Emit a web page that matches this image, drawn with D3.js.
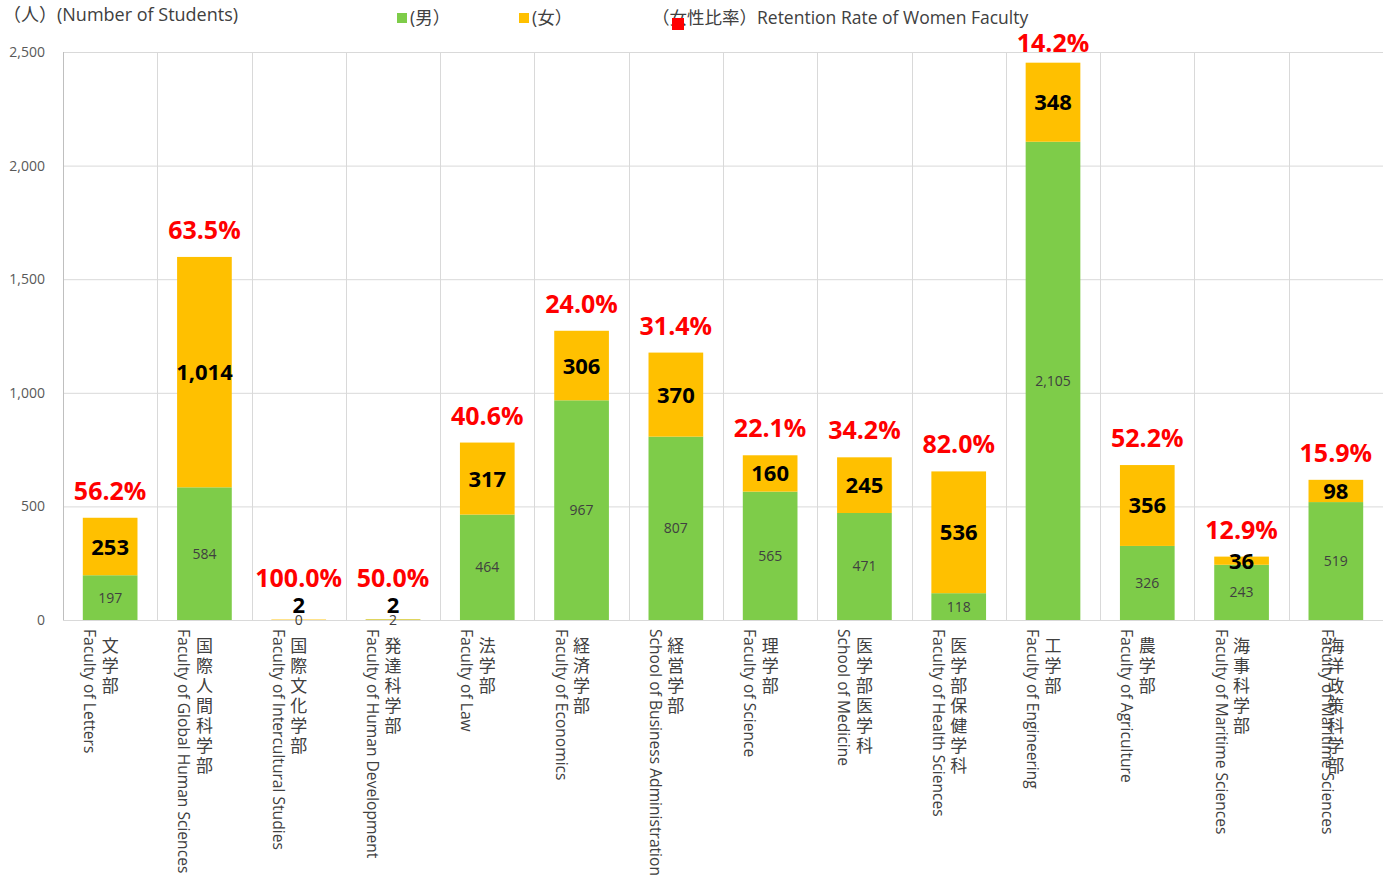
<!DOCTYPE html>
<html>
<head>
<meta charset="utf-8">
<script src="https://cdn.jsdelivr.net/npm/d3@7"></script>
<style>
  body { margin: 0; background: #fff; }
  svg { display: block; font-family: 'Open Sans', 'Noto Sans CJK JP', sans-serif; }
</style>
</head>
<body>
<svg></svg>
<script>
const W = 1383, H = 877;

// data
const facultiesJa = ['文学部', '国際人間科学部', '国際文化学部', '発達科学部', '法学部', '経済学部',
  '経営学部', '理学部', '医学部医学科', '医学部保健学科', '工学部', '農学部', '海事科学部', '海洋政策科学部'];
const facultiesEn = ['Faculty of Letters', 'Faculty of Global Human Sciences', 'Faculty of Intercultural Studies',
  'Faculty of Human Development', 'Faculty of Law', 'Faculty of Economics', 'School of Business Administration',
  'Faculty of Science', 'School of Medicine', 'Faculty of Health Sciences', 'Faculty of Engineering',
  'Faculty of Agriculture', 'Faculty of Maritime Sciences', 'Faculty of Maritime Sciences'];
const male = [197, 584, 0, 2, 464, 967, 807, 565, 471, 118, 2105, 326, 243, 519];
const female = [253, 1014, 2, 2, 317, 306, 370, 160, 245, 536, 348, 356, 36, 98];
const womenRate = [56.2, 63.5, 100.0, 50.0, 40.6, 24.0, 31.4, 22.1, 34.2, 82.0, 14.2, 52.2, 12.9, 15.9];
const yTicks = [0, 500, 1000, 1500, 2000, 2500];

const GREEN = '#7ECC49', ORANGE = '#FFC000', RED = '#FF0000';

const svg = d3.select('svg').attr('width', W).attr('height', H);

const margin = { left: 63, right: 0, top: 52, bottom: 257 };
const x = d3.scaleBand()
  .domain(d3.range(facultiesJa.length))
  .range([margin.left, W - margin.right])
  .paddingInner(0.42).paddingOuter(0.21);
const y = d3.scaleLinear().domain([0, 2500]).range([H - margin.bottom, margin.top]);

const step = x.step();
const fmt = d3.format(',');

// grid
const grid = svg.append('g');
grid.selectAll('line.h')
  .data(yTicks.filter(t => t > 0))
  .enter().append('line')
  .attr('x1', margin.left).attr('x2', W)
  .attr('y1', d => y(d) + 0.5).attr('y2', d => y(d) + 0.5)
  .attr('stroke', '#d9d9d9');
grid.selectAll('line.v')
  .data(d3.range(1, facultiesJa.length))
  .enter().append('line')
  .attr('x1', i => Math.round(margin.left + i * step) + 0.5)
  .attr('x2', i => Math.round(margin.left + i * step) + 0.5)
  .attr('y1', margin.top).attr('y2', y(0))
  .attr('stroke', '#d9d9d9');

// y axis labels
svg.append('g').selectAll('text')
  .data(yTicks)
  .enter().append('text')
  .attr('x', 45).attr('y', d => y(d) + 5)
  .attr('text-anchor', 'end')
  .attr('font-size', 14).attr('fill', '#595959')
  .text(d => fmt(d));

// bars
const stack = d3.stack().keys(['m', 'f'])(male.map((m, i) => ({ m, f: female[i] })));
const colors = [GREEN, ORANGE];
stack.forEach((layer, k) => {
  svg.append('g').selectAll('rect')
    .data(layer)
    .enter().append('rect')
    .attr('x', (d, i) => x(i))
    .attr('width', x.bandwidth())
    .attr('y', d => y(d[1]))
    .attr('height', d => y(d[0]) - y(d[1]))
    .attr('fill', colors[k]);
});

// axis lines
svg.append('line')
  .attr('x1', margin.left + 0.5).attr('x2', margin.left + 0.5)
  .attr('y1', margin.top).attr('y2', y(0))
  .attr('stroke', '#bfbfbf');
svg.append('line')
  .attr('x1', margin.left).attr('x2', W)
  .attr('y1', y(0) + 0.5).attr('y2', y(0) + 0.5)
  .attr('stroke', '#d9d9d9');

// male labels
svg.append('g').selectAll('text')
  .data(male)
  .enter().append('text')
  .attr('x', (d, i) => x(i) + x.bandwidth() / 2)
  .attr('y', d => y(d / 2) + 5)
  .attr('text-anchor', 'middle')
  .attr('font-size', 14).attr('fill', '#404040')
  .text(d => fmt(d));

// female labels
svg.append('g').selectAll('text')
  .data(female)
  .enter().append('text')
  .attr('x', (d, i) => x(i) + x.bandwidth() / 2)
  .attr('y', (d, i) => Math.min(y(male[i] + d / 2), 605) + 8)
  .attr('text-anchor', 'middle')
  .attr('font-size', 22).attr('font-weight', 700).attr('fill', '#000')
  .text(d => fmt(d));

// rate labels
svg.append('g').selectAll('text')
  .data(womenRate)
  .enter().append('text')
  .attr('x', (d, i) => x(i) + x.bandwidth() / 2)
  .attr('y', (d, i) => Math.max(52, Math.min(y(male[i] + female[i]) - 18, 587)))
  .attr('text-anchor', 'middle')
  .attr('font-size', 25).attr('font-weight', 700).attr('fill', RED)
  .text(d => d.toFixed(1) + '%');

// category labels (vertical)
const cat = svg.append('g').attr('fill', '#404040');
cat.selectAll('text.ja')
  .data(facultiesJa)
  .enter().append('text')
  .attr('x', (d, i) => x(i) + x.bandwidth() / 2)
  .attr('y', 637)
  .style('writing-mode', 'vertical-rl')
  .attr('font-size', 17)
  .attr('letter-spacing', 3)
  .attr('font-family', "'Noto Sans CJK JP', sans-serif")
  .text(d => d);
cat.selectAll('text.en')
  .data(facultiesEn)
  .enter().append('text')
  .attr('x', (d, i) => x(i) + x.bandwidth() / 2 - (i === facultiesEn.length - 1 ? 8 : 20))
  .attr('y', 629)
  .style('writing-mode', 'vertical-rl')
  .attr('font-size', 15.6)
  .text(d => d);

// title
svg.append('text')
  .attr('x', 3).attr('y', 21)
  .attr('font-size', 18).attr('fill', '#404040')
  .text('（人）(Number of Students)');

// legend
const legend = svg.append('g').attr('font-size', 17.5).attr('fill', '#404040');
legend.append('rect').attr('x', 397).attr('y', 13).attr('width', 10).attr('height', 10).attr('fill', GREEN);
legend.append('text').attr('x', 410).attr('y', 24).text('(男）');
legend.append('rect').attr('x', 519).attr('y', 13).attr('width', 10).attr('height', 10).attr('fill', ORANGE);
legend.append('text').attr('x', 532).attr('y', 24).text('(女）');
legend.append('text').attr('x', 652).attr('y', 24).text('（女性比率）Retention Rate of Women Faculty');
legend.append('rect').attr('x', 672).attr('y', 18).attr('width', 12).attr('height', 12).attr('fill', RED);
</script>
</body>
</html>
